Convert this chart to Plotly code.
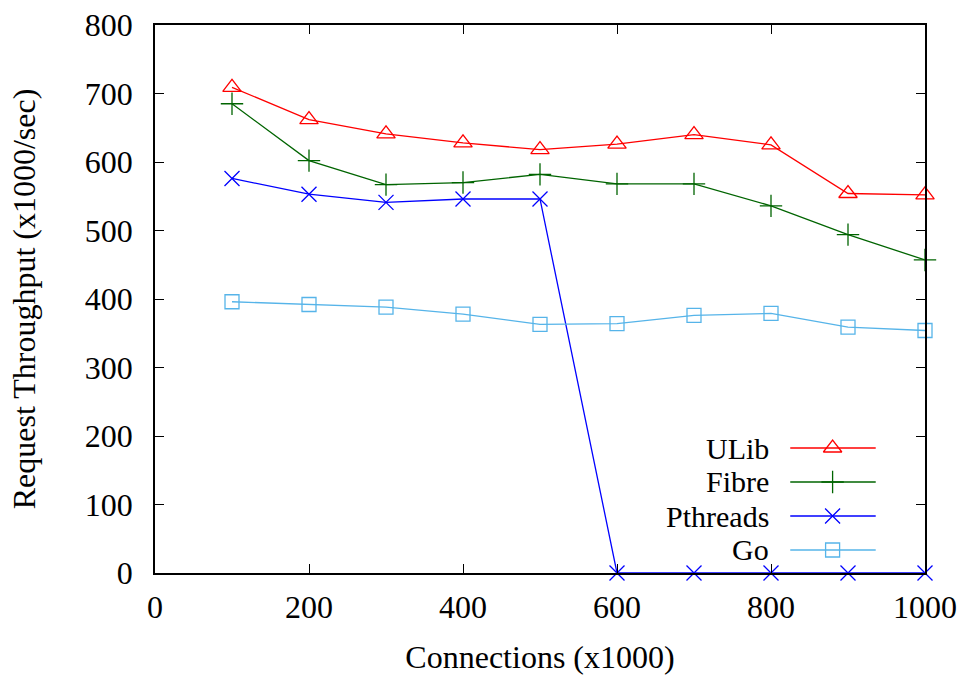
import plotly.graph_objects as go

connections = [100, 200, 300, 400, 500, 600, 700, 800, 900, 1000]
ulib = [709, 662, 641, 628, 618, 626, 640, 625, 554, 552]
fibre = [685, 602, 567, 570, 582, 568, 568, 536, 494, 457]
pthreads = [576, 553, 541, 546, 546, 0, 0, 0, 0, 0]
golang = [396, 392, 388, 378, 363, 364, 376, 379, 359, 354]

x_ticks = [0, 200, 400, 600, 800, 1000]
y_ticks = [0, 100, 200, 300, 400, 500, 600, 700, 800]

series = [
    ("ULib", ulib, "#ff0000", "triangle-up-open", 16),
    ("Fibre", fibre, "#006400", "cross-thin-open", 16),
    ("Pthreads", pthreads, "#0000ff", "x-thin-open", 15),
    ("Go", golang, "#56b4e9", "square-open", 14),
]

FONT = "Liberation Serif, Times New Roman, serif"
FS = 32
LEG_FS = 30

fig = go.Figure()
for name, vals, color, sym, size in series:
    fig.add_trace(go.Scatter(
        x=connections, y=vals, mode="lines+markers", name=name,
        line=dict(color=color, width=1.3),
        marker=dict(symbol=sym, size=size, color=color, line=dict(color=color, width=1.3)),
        cliponaxis=False, showlegend=False,
    ))

# manual gnuplot-style legend (text right-aligned, sample to the right)
leg_rows = [0.2281, 0.1661, 0.1040, 0.0420]
for (name, vals, color, sym, size), ry in zip(series, leg_rows):
    fig.add_trace(go.Scatter(
        x=[0.825, 0.936], y=[ry, ry], xaxis="x2", yaxis="y2", mode="lines",
        line=dict(color=color, width=1.3), showlegend=False, hoverinfo="skip",
    ))
    fig.add_trace(go.Scatter(
        x=[0.88], y=[ry], xaxis="x2", yaxis="y2", mode="markers",
        marker=dict(symbol=sym, size=size, color=color, line=dict(color=color, width=1.3)),
        showlegend=False, hoverinfo="skip", cliponaxis=False,
    ))
    fig.add_annotation(x=0.799, y=ry, xref="paper", yref="paper", text=name,
                       showarrow=False, xanchor="right", yanchor="middle",
                       borderpad=0, valign="middle",
                       font=dict(family=FONT, size=LEG_FS, color="black"))

axis_common = dict(
    showline=True, linecolor="black", linewidth=1.5, mirror="allticks",
    ticks="inside", ticklen=9, tickwidth=1.2, tickcolor="black",
    showgrid=False, zeroline=False, automargin=False,
    tickfont=dict(family=FONT, size=FS, color="black"),
)

fig.update_layout(
    width=958, height=675,
    margin=dict(l=155, r=33, t=25, b=102),
    plot_bgcolor="white", paper_bgcolor="white",
    font=dict(family=FONT, size=FS, color="black"),
    xaxis=dict(range=[0, 1000], tickvals=x_ticks, ticklabelstandoff=5,
               title=dict(text="Connections (x1000)", font=dict(family=FONT, size=FS), standoff=24),
               **axis_common),
    yaxis=dict(range=[0, 800], tickvals=y_ticks, ticklabelstandoff=14,
               title=dict(text="Request Throughput (x1000/sec)", font=dict(family=FONT, size=FS), standoff=40),
               **axis_common),
    xaxis2=dict(range=[0, 1], overlaying="x", visible=False, fixedrange=True),
    yaxis2=dict(range=[0, 1], overlaying="y", visible=False, fixedrange=True),
)

fig.write_html("out.html")
